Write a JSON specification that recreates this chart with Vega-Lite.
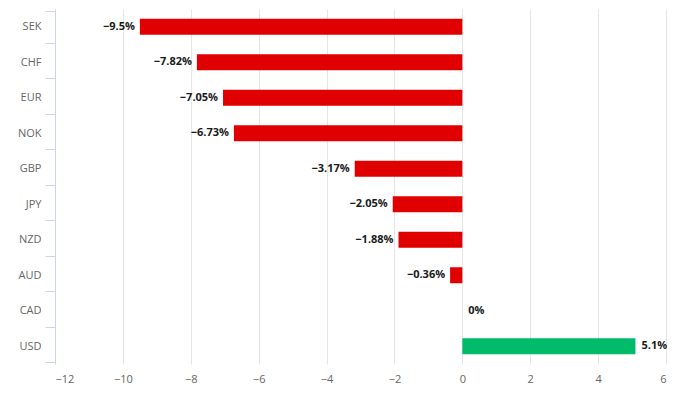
{
  "$schema": "https://vega.github.io/schema/vega-lite/v6.json",
  "width": 611,
  "height": 355,
  "autosize": {"type": "none"},
  "padding": {"left": 55, "top": 9, "right": 30, "bottom": 30},
  "background": "white",
  "config": {
    "view": {"stroke": null},
    "font": "Open Sans"
  },
  "data": {
    "values": [
      {"currency": "SEK", "change": -9.5},
      {"currency": "CHF", "change": -7.82},
      {"currency": "EUR", "change": -7.05},
      {"currency": "NOK", "change": -6.73},
      {"currency": "GBP", "change": -3.17},
      {"currency": "JPY", "change": -2.05},
      {"currency": "NZD", "change": -1.88},
      {"currency": "AUD", "change": -0.36},
      {"currency": "CAD", "change": 0},
      {"currency": "USD", "change": 5.1}
    ]
  },
  "transform": [
    {"calculate": "format(datum.change, '.2~f') + '%'", "as": "label"}
  ],
  "encoding": {
    "y": {
      "field": "currency",
      "type": "nominal",
      "sort": null,
      "title": null,
      "axis": {
        "domainColor": "#ccd6eb",
        "tickColor": "#ccd6eb",
        "tickSize": 10,
        "tickBand": "extent",
        "labelColor": "#666666",
        "labelFontSize": 11,
        "labelPadding": 4,
        "labelFont": "Open Sans"
      }
    }
  },
  "layer": [
    {
      "mark": {"type": "bar", "size": 16},
      "encoding": {
        "x": {
          "field": "change",
          "type": "quantitative",
          "title": null,
          "scale": {"domain": [-12, 6], "nice": false},
          "axis": {
            "values": [-12, -10, -8, -6, -4, -2, 0, 2, 4, 6],
            "domain": false,
            "ticks": false,
            "gridColor": "#e6e6e6",
            "labelColor": "#666666",
            "labelFontSize": 11,
            "labelPadding": 9,
            "labelFont": "Open Sans"
          }
        },
        "color": {
          "condition": {"test": "datum.change < 0", "value": "#e00000"},
          "value": "#00bb6a"
        }
      }
    },
    {
      "transform": [{"filter": "datum.change < 0"}],
      "mark": {"type": "text", "align": "right", "dx": -5, "fontWeight": "bold", "fontSize": 11, "color": "#1a1a1a", "font": "Open Sans"},
      "encoding": {
        "x": {"field": "change", "type": "quantitative"},
        "text": {"field": "label"}
      }
    },
    {
      "transform": [{"filter": "datum.change >= 0"}],
      "mark": {"type": "text", "align": "left", "dx": 6, "fontWeight": "bold", "fontSize": 11, "color": "#1a1a1a", "font": "Open Sans"},
      "encoding": {
        "x": {"field": "change", "type": "quantitative"},
        "text": {"field": "label"}
      }
    }
  ]
}
